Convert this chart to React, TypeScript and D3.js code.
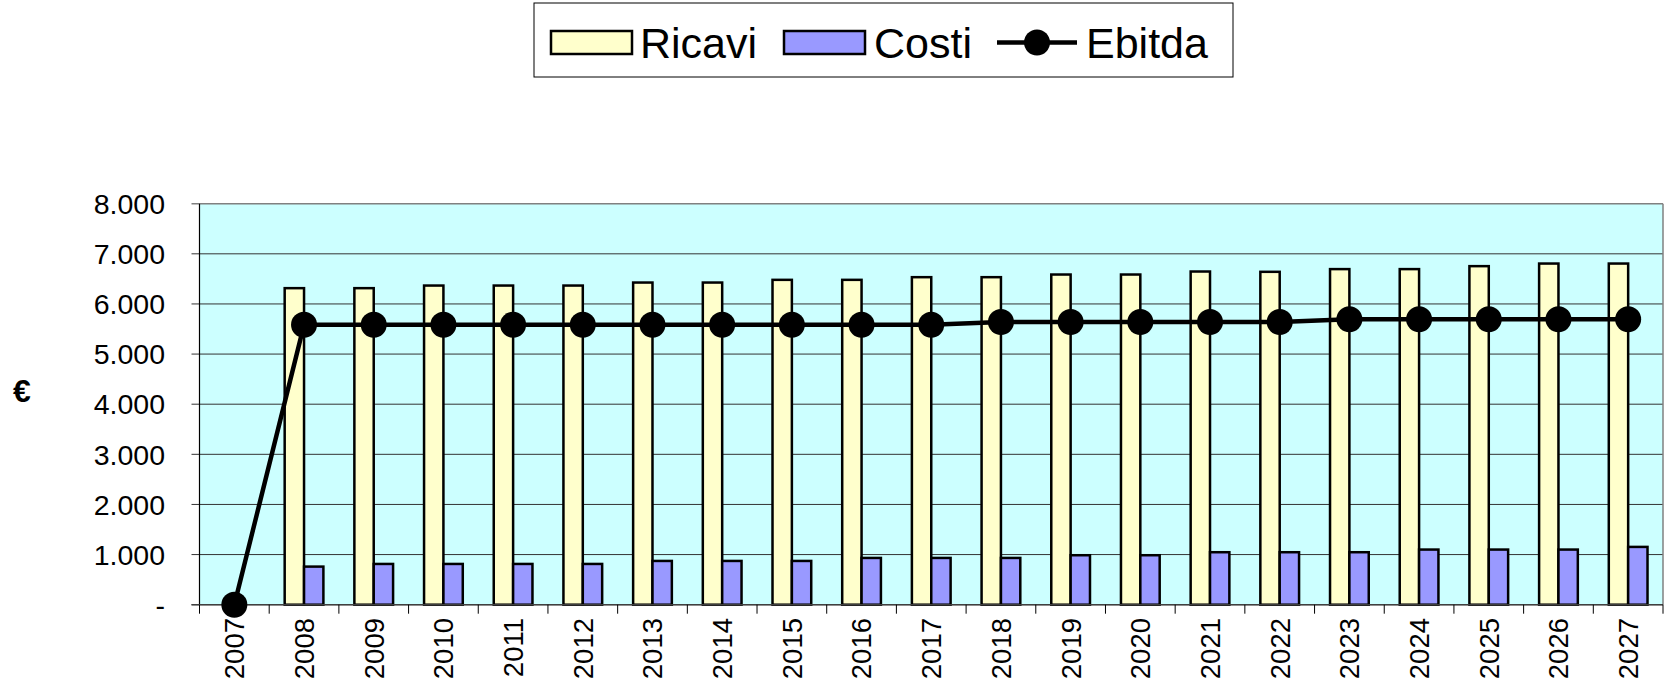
import React from 'react';
import * as d3 from 'd3';

const years = ['2007', '2008', '2009', '2010', '2011', '2012', '2013', '2014', '2015', '2016', '2017', '2018', '2019', '2020', '2021', '2022', '2023', '2024', '2025', '2026', '2027'];
const ricavi = [0, 6315, 6315, 6367, 6367, 6367, 6427, 6427, 6481, 6481, 6534, 6534, 6587, 6587, 6647, 6641, 6695, 6695, 6754, 6806, 6806];
const costi = [0, 760, 813, 813, 813, 813, 873, 873, 873, 933, 933, 933, 987, 987, 1047, 1047, 1047, 1100, 1100, 1100, 1153];
const ebitda = [0, 5585, 5585, 5585, 5585, 5585, 5585, 5585, 5585, 5585, 5585, 5640, 5640, 5640, 5640, 5640, 5695, 5695, 5695, 5695, 5695];
const yTicks = [0, 1000, 2000, 3000, 4000, 5000, 6000, 7000, 8000];
const yTickLabels = ['-', '1.000', '2.000', '3.000', '4.000', '5.000', '6.000', '7.000', '8.000'];

const W = 1664;
const H = 695;
const FONT = "'Liberation Sans', Arial, sans-serif";

export default function App() {
  // plot area
  const left = 199.5;
  const right = 1663;
  const top = 203.7;
  const bottom = 604.7;

  const x = d3.scaleBand<string>().domain(years).range([left, right]).paddingInner(0).paddingOuter(0);
  const y = d3.scaleLinear().domain([0, 8000]).range([bottom, top]);
  const bw = x.bandwidth();
  // Excel-like gap width of 80%
  const group = bw / 1.8;
  const inner = d3
    .scaleBand<string>()
    .domain(['ricavi', 'costi'])
    .range([(bw - group) / 2, (bw + group) / 2]);

  const line = d3
    .line<number>()
    .x((_, i) => (x(years[i]) as number) + bw / 2)
    .y((d) => y(d));

  return (
    <svg width={W} height={H} style={{ position: 'absolute', left: 0, top: 0 }} fontFamily={FONT}>
      <rect x={0} y={0} width={W} height={H} fill="#ffffff" />

      {/* legend */}
      <rect x={534} y={3} width={699} height={74} fill="#ffffff" stroke="#000" strokeWidth={1} />
      <rect x={551} y={31} width={81} height={23} fill="#FFFFCC" stroke="#000" strokeWidth={2.5} />
      <text x={640} y={58} fontSize={43}>Ricavi</text>
      <rect x={784} y={31} width={81} height={23} fill="#9999FF" stroke="#000" strokeWidth={2.5} />
      <text x={874} y={58} fontSize={43}>Costi</text>
      <line x1={997} x2={1077} y1={42.5} y2={42.5} stroke="#000" strokeWidth={4.5} />
      <circle cx={1037} cy={42.5} r={13} fill="#000" />
      <text x={1086} y={58} fontSize={43}>Ebitda</text>

      {/* plot background */}
      <rect x={left} y={top} width={right - left} height={bottom - top} fill="#CCFFFF" />

      {/* gridlines + y ticks */}
      {yTicks.map((t, i) => (
        <g key={t}>
          <line x1={left - 8} x2={right} y1={y(t)} y2={y(t)} stroke={i === yTicks.length - 1 ? '#808080' : '#333'} strokeWidth={i === yTicks.length - 1 ? 1.5 : 1} />
          <text x={165} y={y(t)} dy="0.36em" textAnchor="end" fontSize={28.5} fill="#000">
            {yTickLabels[i]}
          </text>
        </g>
      ))}
      <line x1={right} x2={right} y1={top} y2={bottom} stroke="#808080" strokeWidth={1.5} />

      {/* bars */}
      {years.map((yr, i) => (
        <g key={yr} transform={`translate(${x(yr)},0)`}>
          {ricavi[i] > 0 && (
            <rect
              x={inner('ricavi')}
              y={y(ricavi[i])}
              width={inner.bandwidth()}
              height={bottom - y(ricavi[i])}
              fill="#FFFFCC"
              stroke="#000"
              strokeWidth={2.5}
            />
          )}
          {costi[i] > 0 && (
            <rect
              x={inner('costi')}
              y={y(costi[i])}
              width={inner.bandwidth()}
              height={bottom - y(costi[i])}
              fill="#9999FF"
              stroke="#000"
              strokeWidth={2.5}
            />
          )}
        </g>
      ))}

      {/* axes */}
      <line x1={left} x2={left} y1={top} y2={bottom} stroke="#000" strokeWidth={1.2} />
      <line x1={left - 8} x2={right} y1={bottom} y2={bottom} stroke="#404040" strokeWidth={1.5} />
      {years.map((yr) => (
        <line key={yr} x1={x(yr)} x2={x(yr)} y1={bottom} y2={bottom + 9} stroke="#000" strokeWidth={1} />
      ))}
      <line x1={right} x2={right} y1={bottom} y2={bottom + 9} stroke="#000" strokeWidth={1} />

      {/* ebitda line */}
      <path d={line(ebitda) || ''} fill="none" stroke="#000" strokeWidth={4.5} />
      {ebitda.map((v, i) => (
        <circle key={years[i]} cx={(x(years[i]) as number) + bw / 2} cy={y(v)} r={13} fill="#000" />
      ))}

      {/* x labels */}
      {years.map((yr) => {
        const cx = (x(yr) as number) + bw / 2;
        return (
          <text
            key={yr}
            transform={`translate(${cx},618) rotate(-90)`}
            textAnchor="end"
            dy="0.36em"
            fontSize={27.5}
            fill="#000"
          >
            {yr}
          </text>
        );
      })}

      {/* y axis title */}
      <text x={22} y={390} dy="0.36em" textAnchor="middle" fontSize={32} fontWeight="bold">
        €
      </text>
    </svg>
  );
}
